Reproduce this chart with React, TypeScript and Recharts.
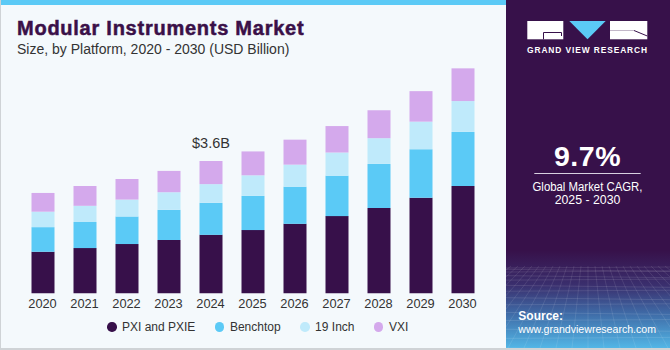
import React from 'react';
import { BarChart, Bar, XAxis, YAxis, LabelList } from 'recharts';

const years = ['2020', '2021', '2022', '2023', '2024', '2025', '2026', '2027', '2028', '2029', '2030'];
const pxiPxie = [1.13, 1.23, 1.34, 1.45, 1.59, 1.72, 1.89, 2.1, 2.32, 2.6, 2.92];
const benchtop = [0.67, 0.71, 0.75, 0.82, 0.87, 0.93, 1.01, 1.1, 1.2, 1.32, 1.47];
const inch19 = [0.42, 0.44, 0.46, 0.48, 0.51, 0.56, 0.6, 0.63, 0.7, 0.75, 0.84];
const vxi = [0.51, 0.54, 0.56, 0.58, 0.63, 0.65, 0.68, 0.72, 0.76, 0.83, 0.89];

const seriesKeys = ['pxi', 'bench', 'inch19', 'vxi'];
const seriesNames = ['PXI and PXIE', 'Benchtop', '19 Inch', 'VXI'];
const seriesColors = ['#37104a', '#5bcaf6', '#bfeafb', '#d4a9ec'];

const annotatedYear = '2024';
const annotationText = '$3.6B';

const titleText = 'Modular Instruments Market';
const subtitleText = 'Size, by Platform, 2020 - 2030 (USD Billion)';
const cagrValue = '9.7%';
const cagrLabel1 = 'Global Market CAGR,';
const cagrLabel2 = '2025 - 2030';

const data = years.map((y, i) => ({
  year: y,
  pxi: pxiPxie[i],
  bench: benchtop[i],
  inch19: inch19[i],
  vxi: vxi[i],
}));

const FONT = '"Liberation Sans", Arial, sans-serif';

const renderAnnotation = (props: any) => {
  const { x, y, width, index } = props;
  if (years[index] !== annotatedYear) return null;
  return (
    <text x={Number(x) + Number(width) / 2} y={Number(y) - 12.7} textAnchor="middle" fontSize={14.5} fill="#333" fontFamily={FONT}>
      {annotationText}
    </text>
  );
};

const Panel = () => {
  const lines: React.ReactNode[] = [];
  // decorative perspective grid in the bottom of the panel
  for (let k = 0; k < 14; k++) {
    const yy = 268 + Math.pow(k / 13, 1.6) * 80;
    lines.push(<line key={'h' + k} x1={0} x2={164} y1={yy} y2={yy + (k % 2 ? 2 : -1)} stroke="#ffffff" strokeOpacity={0.16} strokeWidth={0.7} />);
  }
  for (let k = -12; k <= 24; k++) {
    const xTop = 82 + k * 7;
    const xBot = 82 + k * 16;
    lines.push(<line key={'v' + k} x1={xTop} x2={xBot} y1={266} y2={348} stroke="#ffffff" strokeOpacity={0.14} strokeWidth={0.7} />);
  }
  return (
    <svg width={164} height={348} style={{ position: 'absolute', left: 506, top: 0 }}>
      <defs>
        <linearGradient id="pg" x1="0" y1="0" x2="0" y2="348" gradientUnits="userSpaceOnUse">
          <stop offset="0" stopColor="#37114a" />
          <stop offset="0.72" stopColor="#37114a" />
          <stop offset="0.82" stopColor="#3a2f6e" />
          <stop offset="0.9" stopColor="#3f6aa6" />
          <stop offset="1" stopColor="#52b6e6" />
        </linearGradient>
      </defs>
      <rect x={0} y={0} width={164} height={348} fill="url(#pg)" />
      {lines}
      {/* logo */}
      <rect x={21.3} y={21} width={36} height={18.3} fill="#ffffff" />
      <polyline points="37.5,39.3 37.5,32.5 55.5,32.5 55.5,36" fill="none" stroke="#37114a" strokeWidth={1} />
      <polygon points="63.3,21 99.7,21 81.5,39.3" fill="#5bcaf6" />
      <rect x={104} y={21} width={37.3} height={18.3} fill="#ffffff" />
      <line x1={128} y1={30.5} x2={141.3} y2={36} stroke="#37114a" strokeWidth={1} />
      <line x1={104} y1={30.5} x2={128} y2={30.5} stroke="#37114a" strokeWidth={0.6} strokeOpacity={0.5} />
      <text x={81.5} y={53.3} textAnchor="middle" fontSize={8.4} fontWeight={700} fill="#ffffff" fontFamily={FONT} letterSpacing={0.9}>
        GRAND VIEW RESEARCH
      </text>
      <text x={81.5} y={165.5} textAnchor="middle" fontSize={28.5} fontWeight={700} fill="#ffffff" fontFamily={FONT} letterSpacing={0.5}>
        {cagrValue}
      </text>
      <line x1={28.3} x2={134.7} y1={173.5} y2={173.5} stroke="#d8d0e0" strokeWidth={1} />
      <text x={81.5} y={190.5} textAnchor="middle" fontSize={12.3} fill="#ffffff" fontFamily={FONT} textLength={110} lengthAdjust="spacingAndGlyphs">
        {cagrLabel1}
      </text>
      <text x={81.5} y={204.3} textAnchor="middle" fontSize={12.3} fill="#ffffff" fontFamily={FONT}>
        {cagrLabel2}
      </text>
      <text x={12.3} y={320} fontSize={12} fontWeight={700} fill="#ffffff" fontFamily={FONT}>
        Source:
      </text>
      <text x={12.3} y={332.5} fontSize={10.6} fill="#ffffff" fontFamily={FONT}>
        www.grandviewresearch.com
      </text>
    </svg>
  );
};

export default function App() {
  return (
    <div style={{ position: 'absolute', left: 0, top: 0, width: 670, height: 350, background: '#cfd3d6', overflow: 'hidden' }}>
      <div style={{ position: 'absolute', left: 1, top: 0, width: 668, height: 348, background: '#f4f9fc' }} />
      <div style={{ position: 'absolute', left: 1, top: 0, width: 505, height: 5, background: '#5bcaf6' }} />
      <Panel />
      <div style={{ position: 'absolute', left: 0, top: 0 }}>
        <BarChart width={670} height={350} data={data} margin={{ top: 36, right: 186.5, bottom: 26.7, left: 21.5 }} barSize={23}>
          <XAxis
            dataKey="year"
            height={30}
            axisLine={false}
            tickLine={false}
            tickSize={6}
            tickMargin={0}
            interval={0}
            tick={{ fontSize: 12.8, fill: '#333', fontFamily: FONT }}
          />
          <YAxis hide domain={[0, 7]} />
          {seriesKeys.map((k, i) => (
            <Bar key={k} dataKey={k} name={seriesNames[i]} stackId="a" fill={seriesColors[i]} isAnimationActive={false}>
              {i === seriesKeys.length - 1 ? <LabelList dataKey={k} content={renderAnnotation} /> : null}
            </Bar>
          ))}
        </BarChart>
      </div>
      <svg width={500} height={70} style={{ position: 'absolute', left: 0, top: 0 }}>
        <text x={17} y={35} fontSize={20} fontWeight={700} fill="#3a1048" stroke="#3a1048" strokeWidth={0.5} fontFamily={FONT} letterSpacing={0.75}>
          {titleText}
        </text>
        <text x={17} y={54.3} fontSize={14} fill="#333" fontFamily={FONT}>
          {subtitleText}
        </text>
      </svg>
      <div
        style={{
          position: 'absolute',
          left: 107,
          top: 319,
          height: 16,
          display: 'flex',
          alignItems: 'center',
          fontFamily: FONT,
          fontSize: 12,
          color: '#333',
          whiteSpace: 'nowrap',
        }}
      >
        {seriesNames.map((n, i) => (
          <div key={n} style={{ display: 'flex', alignItems: 'center', marginRight: 19.5 }}>
            <span style={{ display: 'inline-block', width: 9.5, height: 9.5, borderRadius: '50%', background: seriesColors[i], marginRight: 5.5 }} />
            <span>{n}</span>
          </div>
        ))}
      </div>
    </div>
  );
}
